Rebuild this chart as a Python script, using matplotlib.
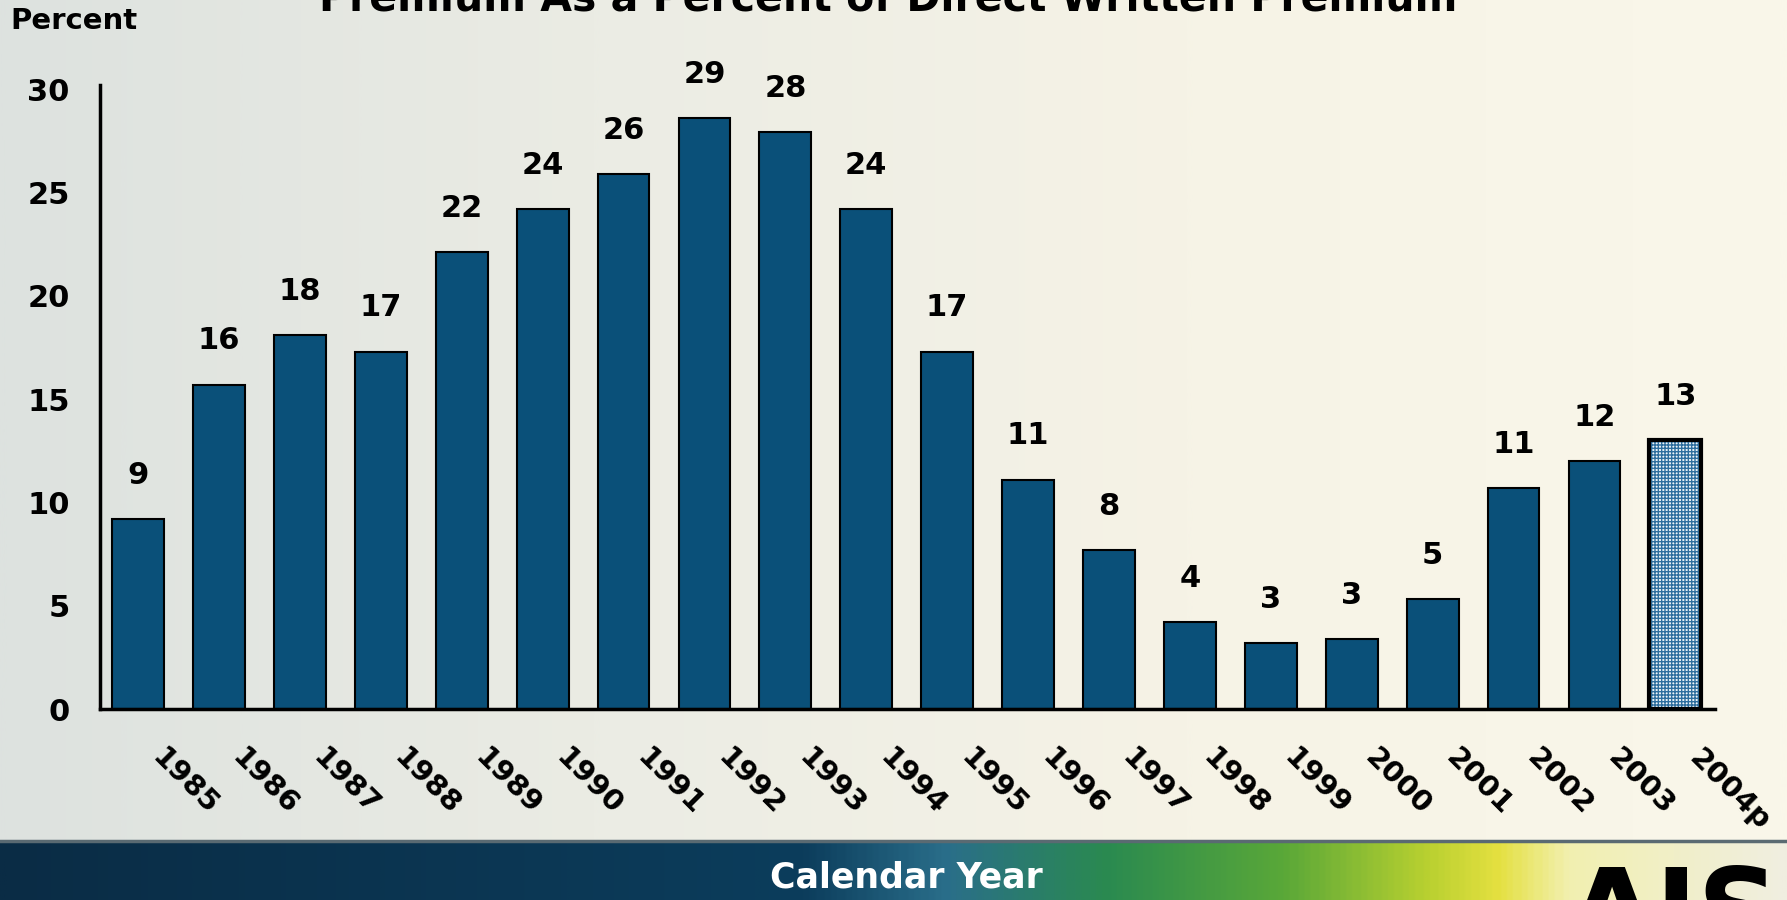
import numpy as np
import matplotlib.pyplot as plt
from matplotlib.colors import LinearSegmentedColormap

years = ['1985', '1986', '1987', '1988', '1989', '1990', '1991', '1992', '1993', '1994',
         '1995', '1996', '1997', '1998', '1999', '2000', '2001', '2002', '2003', '2004p']
values = [9.2, 15.7, 18.1, 17.3, 22.1, 24.2, 25.9, 28.6, 27.9, 24.2,
          17.3, 11.1, 7.7, 4.2, 3.2, 3.4, 5.3, 10.7, 12.0, 13.0]
labels = ['9', '16', '18', '17', '22', '24', '26', '29', '28', '24',
          '17', '11', '8', '4', '3', '3', '5', '11', '12', '13']

plt.rcParams['font.family'] = ['DejaVu Sans']
plt.rcParams['font.weight'] = 'bold'

fig = plt.figure(figsize=(17.87, 9), dpi=100)

# background: pale grey to cream on top, coloured band at bottom
bg = fig.add_axes([0, 0, 1, 1], zorder=-10)
bg.set_axis_off()
top_cmap = LinearSegmentedColormap.from_list('top', ['#dde2df', '#ebece4', '#f6f3e6', '#faf7ea'])
grad = np.linspace(0, 1, 600).reshape(1, -1)
bg.imshow(grad, cmap=top_cmap, extent=[0, 1, 0.066, 1], aspect='auto', transform=bg.transAxes)
band_cmap = LinearSegmentedColormap.from_list(
    'band', [(0, '#0a2c45'), (0.45, '#0c3d5c'), (0.53, '#2a6e8a'), (0.62, '#2a8a50'),
             (0.72, '#5aa838'), (0.80, '#b8d030'), (0.84, '#e4e040'), (0.88, '#f2f0b0'),
             (1, '#f0eee0')])
bg.imshow(grad, cmap=band_cmap, extent=[0, 1, 0, 0.066], aspect='auto', transform=bg.transAxes)
bg.axhline(0.066, color='#5a6a72', lw=2.5)
bg.set_xlim(0, 1)
bg.set_ylim(0, 1)

ax = fig.add_axes([0.056, 0.2122, 0.9037, 0.6934])
ax.patch.set_alpha(0)
x = np.arange(len(years))
ax.bar(x[:-1], values[:-1], width=0.64, color='#0a5079', edgecolor='black', linewidth=1.5)
ax.bar(x[-1], values[-1], width=0.64, color='#eef4f8', edgecolor='#2e6e9e', hatch='+++++', linewidth=0)
ax.bar(x[-1], values[-1], width=0.64, fill=False, edgecolor='black', linewidth=3)

for xi, v, lab in zip(x, values, labels):
    ax.annotate(lab, (xi, v), xytext=(0, 21), textcoords='offset points',
                ha='center', va='bottom', fontsize=22, fontweight='bold')

for xi, yr in zip(x, years):
    ax.annotate(yr, (xi, 0), xycoords=('data', 'axes fraction'), xytext=(20, -25),
                textcoords='offset points', rotation=-45, rotation_mode='anchor',
                ha='left', va='top', fontsize=21, fontweight='bold')

ax.set_xlim(-0.47, 19.49)
ax.set_ylim(0, 30.2)
ax.set_xticks([])
ax.set_yticks([0, 5, 10, 15, 20, 25, 30])
ax.tick_params(axis='y', length=0, pad=22, labelsize=22)
for t in ax.get_yticklabels():
    t.set_fontweight('bold')
ax.spines['top'].set_visible(False)
ax.spines['right'].set_visible(False)
ax.spines['left'].set_linewidth(2.5)
ax.spines['bottom'].set_linewidth(2.5)

fig.text(0.006, 0.977, 'Percent', fontsize=21, fontweight='bold', va='center', ha='left')
fig.text(0.497, 0.988, 'Premium As a Percent of Direct Written Premium', fontsize=29.5,
         fontweight='bold', ha='center', va='baseline')
fig.text(0.507, 0.025, 'Calendar Year', fontsize=25, fontweight='bold', color='white',
         ha='center', va='center')
fig.text(0.877, 0.041, 'AIS', fontsize=82, fontweight='heavy', color='black',
         ha='left', va='top')

fig.savefig('out.png', dpi=100)
